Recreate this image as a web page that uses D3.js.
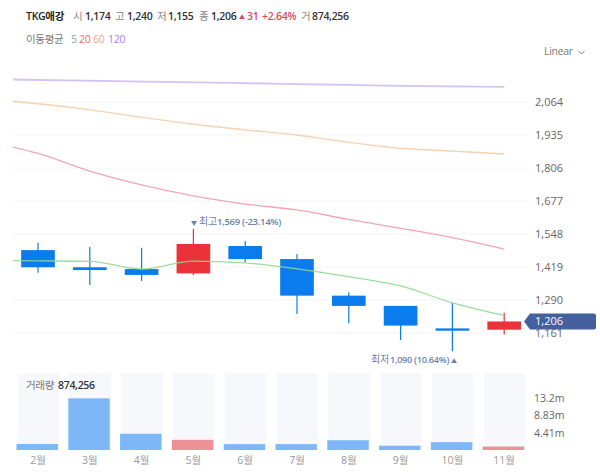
<!DOCTYPE html>
<html><head><meta charset="utf-8">
<script src="https://d3js.org/d3.v7.min.js"></script>
<style>
html,body{margin:0;padding:0;background:#fff;overflow:hidden}
svg{display:block}
text{font-family:"Open Sans","Noto Sans CJK KR",sans-serif;font-size:10.5px}
</style></head><body><svg id="c" width="600" height="472"></svg>
<script>
const months=['2월','3월','4월','5월','6월','7월','8월','9월','10월','11월'];
const opens =[1485,1418,1411,1394,1501,1450,1307,1267,1179,1174];
const closes=[1418,1407,1388,1509,1450,1307,1267,1190,1170,1206];
const highs =[1514,1498,1494,1569,1521,1470,1319,1267,1279,1240];
const lows  =[1397,1349,1364,1388,1437,1235,1199,1134,1090,1155];
const volumes=[1.53,13.2,4.15,2.6,1.5,1.5,2.5,1.1,2.0,0.874];
const maMonths=['1월',...months];
const ma5  =[1445,1443,1441,1411,1442,1435,1412,1381,1345,1279,1230];
const ma20 =[1911,1863,1794,1740,1697,1665,1642,1605,1570,1534,1489];
const ma60 =[2077,2057,2033,2004,1977,1955,1935,1906,1883,1872,1861];
const ma120=[2154,2150,2147,2144,2141,2138,2134,2131,2127,2125,2123];
const priceTicks=[2064,1935,1806,1677,1548,1419,1290,1161];
const volTicks=[4.41,8.83,13.2];
const volTickLabels=['4.41m','8.83m','13.2m'];
const lastClose=1206;

const svg=d3.select('#c');
const fmt=d3.format(',');
const y=d3.scaleLinear().domain([1161,2064]).range([333,102]);
const x=d3.scaleBand().domain(months).range([12.1,530.1]).paddingInner(0.35).paddingOuter(0.175);
const xv=d3.scaleBand().domain(months).range([12.1,530.1]).paddingInner(0.2).paddingOuter(0.1);
const xm=d3.scalePoint().domain(maMonths).range([38-x.step(),38+9*x.step()]);
const yv=d3.scaleLinear().domain([0,13.2]).range([450,398.3]);
const BLUE='#0a7cee',RED='#ea3338';

svg.append('defs').append('clipPath').attr('id','plot').append('rect')
  .attr('x',13).attr('y',60).attr('width',517).attr('height',300);

// grid
svg.append('g').selectAll('line').data(priceTicks).join('line')
  .attr('x1',13).attr('x2',530).attr('y1',d=>y(d)).attr('y2',d=>y(d))
  .attr('stroke','#f3f4f7').attr('stroke-width',1);

// y labels
svg.append('g').selectAll('text').data(priceTicks).join('text')
  .attr('x',535).attr('y',d=>y(d)+4).attr('fill','#666').style('font-size','11px').text(fmt);

// candles
const idx=d3.range(months.length);
const cx=i=>x(months[i])+x.bandwidth()/2;
const up=i=>closes[i]>=opens[i];
svg.append('g').selectAll('line').data(idx).join('line')
  .attr('x1',cx).attr('x2',cx).attr('y1',i=>y(highs[i])).attr('y2',i=>y(lows[i]))
  .attr('stroke',i=>up(i)?RED:BLUE).attr('stroke-width',1.2);
svg.append('g').selectAll('rect').data(idx).join('rect')
  .attr('x',i=>x(months[i])).attr('width',x.bandwidth())
  .attr('y',i=>y(Math.max(opens[i],closes[i])))
  .attr('height',i=>Math.max(2,Math.abs(y(opens[i])-y(closes[i]))))
  .attr('fill',i=>up(i)?RED:BLUE);

// moving averages
const lg=d3.line().x((d,i)=>xm(maMonths[i])).y(d=>y(d)).curve(d3.curveMonotoneX);
const ml=svg.append('g').attr('clip-path','url(#plot)');
[[ma120,'#cfbcf3',1.8],[ma60,'#f5cda6',1.4],[ma20,'#f29ca8',1.3],[ma5,'#8fdc90',1.3]].forEach(([d,c,w])=>{
  ml.append('path').attr('d',lg(d)).attr('fill','none').attr('stroke',c).attr('stroke-width',w).attr('stroke-opacity',.9);
});

// hi/lo annotations
const ann='#6b7fae';
const hi=d3.max(highs),lo=d3.min(lows);
function tx(xp,yp,s,fill,bold,size,anchor){
  const t=svg.append('text').attr('x',xp).attr('y',yp).attr('fill',fill).text(s);
  if(bold)t.style('font-weight',600);
  if(size)t.style('font-size',size+'px');
  if(anchor)t.attr('text-anchor',anchor);
  t.style('letter-spacing','-0.3px');
  return t;
}
tx(191,y(hi)-3.5,'▼',ann,false,6);
tx(199,y(hi)-3.5,'최고',ann,false,10);
tx(217,y(hi)-3.5,'1,569 (-23.14%)',ann,true,9.5);
tx(371,y(lo)+11.5,'최저',ann,false,10);
tx(390,y(lo)+11.5,'1,090 (10.64%)',ann,true,9.2);
tx(451,y(lo)+11.5,'▲',ann,false,6);

// last price tag
const ty=y(lastClose);
svg.append('path').attr('d',`M524,${ty} L530,${ty-8} L594,${ty-8} Q596,${ty-8} 596,${ty-6} L596,${ty+6} Q596,${ty+8} 594,${ty+8} L530,${ty+8} Z`).attr('fill','#45609f');
svg.append('text').attr('x',535).attr('y',ty+4).attr('fill','#fff').style('font-size','11px').text(fmt(lastClose));

// volume
svg.append('g').selectAll('rect').data(idx).join('rect')
  .attr('x',i=>xv(months[i])+.4).attr('width',xv.bandwidth()).attr('y',373).attr('height',77).attr('fill','#f6f8fb');
svg.append('g').selectAll('rect').data(idx).join('rect')
  .attr('x',i=>xv(months[i])-.8).attr('width',xv.bandwidth()).attr('y',i=>yv(volumes[i])).attr('height',i=>450-yv(volumes[i]))
  .attr('fill',i=>up(i)?'#ee9196':'#7db7f7');
svg.append('g').selectAll('text').data(months).join('text')
  .attr('x',d=>xv(d)+xv.bandwidth()/2).attr('y',464).attr('text-anchor','middle').attr('fill','#999').text(d=>d);
svg.append('g').selectAll('text').data(volTicks).join('text')
  .attr('x',534).attr('y',d=>yv(d)+4).attr('fill','#666').text((d,i)=>volTickLabels[i]);
tx(26,389,'거래량','#777');
tx(58,389,'874,256','#333',true);

// header
const g='#888',v='#333',r='#e0475a';
tx(26,20,'TKG애강','#222',true);
[[73,'시',g],[85,'1,174',v],[115,'고',g],[127,'1,240',v],[157,'저',g],[168,'1,155',v],[199,'종',g],[211,'1,206',v]]
  .forEach(([p,s,c])=>tx(p,20,s,c,c===v));
tx(239,19,'▲',r,false,6);
tx(247,20,'31',r,true);tx(262,20,'+2.64%',r,true);
tx(301,20,'거',g);tx(312,20,'874,256',v,true);
tx(26,43,'이동평균','#777');
tx(71,43,'5','#6cbf7a');tx(79,43,'20','#ef6a6a');tx(93,43,'60','#f2a878');tx(108,43,'120','#9f85ef');
tx(544,55,'Linear','#777');
svg.append('path').attr('d','M578.5,51 L581.5,54 L584.5,51').attr('fill','none').attr('stroke','#777').attr('stroke-width',1);
</script></body></html>
